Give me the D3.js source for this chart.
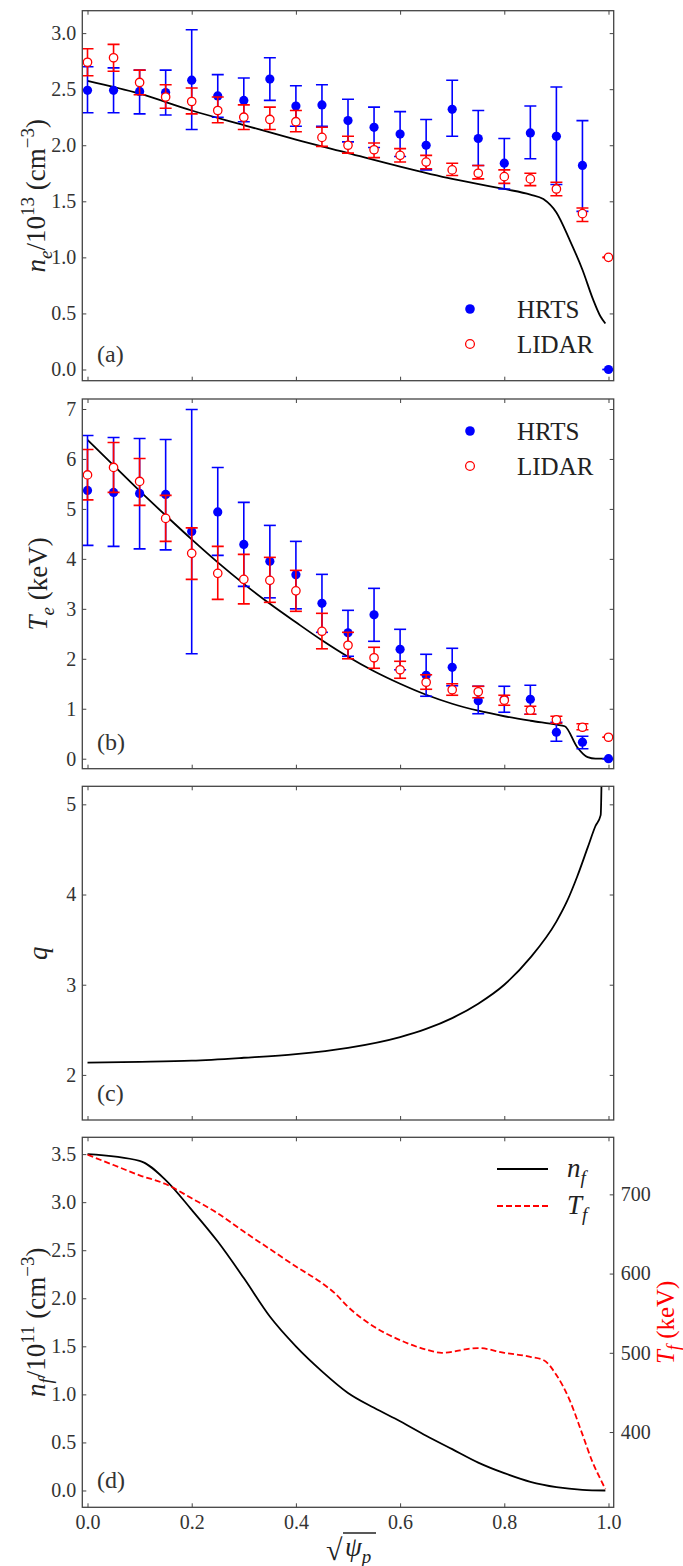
<!DOCTYPE html>
<html>
<head>
<meta charset="utf-8">
<script src="https://cdn.jsdelivr.net/npm/d3@7"></script>
<style>
  body { margin: 0; background: #fff; }
</style>
</head>
<body>
<div id="chart"></div>
<script>
// radial grid of the measurements
var xPos = [0, 0.05, 0.1, 0.15, 0.2, 0.25, 0.3, 0.35, 0.4, 0.45, 0.5,
            0.55, 0.6, 0.65, 0.7, 0.75, 0.8, 0.85, 0.9, 0.95, 1.0];

// (a) density, 1e13 cm^-3
var neHRTS    = [2.49, 2.49, 2.48, 2.47, 2.58, 2.44, 2.40, 2.59, 2.35, 2.36, 2.22, 2.16, 2.10, 2.00, 2.32, 2.06, 1.84, 2.11, 2.08, 1.82, 0.0];
var neHRTSlo  = [2.29, 2.29, 2.28, 2.27, 2.14, 2.25, 2.21, 2.40, 2.17, 2.17, 2.03, 1.98, 1.90, 1.78, 2.08, 1.82, 1.61, 1.88, 1.65, 1.41, 0.0];
var neHRTShi  = [2.70, 2.69, 2.67, 2.67, 3.03, 2.63, 2.60, 2.78, 2.53, 2.54, 2.41, 2.34, 2.30, 2.23, 2.58, 2.31, 2.06, 2.35, 2.52, 2.22, 0.0];
var neLIDAR   = [2.74, 2.78, 2.56, 2.43, 2.39, 2.31, 2.25, 2.23, 2.21, 2.07, 2.00, 1.96, 1.91, 1.85, 1.78, 1.75, 1.72, 1.70, 1.61, 1.39, 1.00];
var neLIDARlo = [2.62, 2.66, 2.45, 2.33, 2.28, 2.20, 2.14, 2.14, 2.12, 1.99, 1.93, 1.89, 1.85, 1.79, 1.73, 1.70, 1.66, 1.64, 1.55, 1.32, 1.00];
var neLIDARhi = [2.86, 2.90, 2.67, 2.54, 2.51, 2.43, 2.36, 2.34, 2.31, 2.16, 2.08, 2.02, 1.97, 1.91, 1.84, 1.82, 1.78, 1.75, 1.67, 1.44, 1.00];
var neFitX = [0, 0.1, 0.2, 0.3, 0.4, 0.5, 0.6, 0.7, 0.8, 0.85, 0.875, 0.9, 0.925, 0.95, 0.97, 0.985, 0.994];
var neFit  = [2.574, 2.46, 2.31, 2.18, 2.05, 1.93, 1.81, 1.70, 1.61, 1.56, 1.52, 1.40, 1.16, 0.89, 0.63, 0.47, 0.41];

// (b) temperature, keV
var teHRTS    = [5.37, 5.33, 5.31, 5.29, 4.55, 4.94, 4.29, 3.95, 3.68, 3.11, 2.52, 2.88, 2.19, 1.67, 1.83, 1.16, 1.19, 1.19, 0.53, 0.33, 0.0];
var teHRTSlo  = [4.27, 4.25, 4.20, 4.18, 2.10, 4.07, 3.45, 3.22, 3.00, 2.53, 2.05, 2.35, 1.78, 1.25, 1.46, 0.90, 0.93, 0.89, 0.35, 0.20, 0.0];
var teHRTShi  = [6.47, 6.43, 6.41, 6.39, 6.99, 5.83, 5.13, 4.67, 4.35, 3.69, 2.97, 3.41, 2.59, 2.09, 2.21, 1.45, 1.45, 1.47, 0.73, 0.45, 0.0];
var teLIDAR   = [5.68, 5.83, 5.55, 4.81, 4.11, 3.71, 3.59, 3.57, 3.36, 2.55, 2.27, 2.02, 1.78, 1.53, 1.38, 1.34, 1.17, 0.97, 0.78, 0.63, 0.43];
var teLIDARlo = [5.18, 5.33, 5.07, 4.35, 3.59, 3.19, 3.10, 3.13, 2.95, 2.20, 2.00, 1.81, 1.61, 1.39, 1.27, 1.22, 1.07, 0.89, 0.71, 0.58, 0.43];
var teLIDARhi = [6.19, 6.33, 6.01, 5.27, 4.62, 4.25, 4.09, 4.03, 3.77, 2.91, 2.53, 2.23, 1.95, 1.68, 1.50, 1.45, 1.27, 1.05, 0.85, 0.70, 0.43];
var teFitX = [0, 0.05, 0.1, 0.15, 0.2, 0.25, 0.3, 0.35, 0.4, 0.45, 0.5, 0.55, 0.6, 0.65, 0.7, 0.75, 0.8, 0.85, 0.9, 0.916, 0.94, 0.96, 0.975, 0.994];
var teFit  = [6.38, 5.87, 5.36, 4.87, 4.39, 3.93, 3.50, 3.10, 2.73, 2.37, 2.04, 1.75, 1.50, 1.28, 1.10, 0.96, 0.85, 0.76, 0.68, 0.65, 0.23, 0.03, 0.0, 0.0];

// (c) safety factor
var qX = [0, 0.1, 0.2, 0.3, 0.4, 0.5, 0.6, 0.65, 0.7, 0.75, 0.8, 0.85, 0.9, 0.92, 0.94, 0.96, 0.975, 0.985, 0.99];
var qV = [2.137, 2.145, 2.158, 2.19, 2.23, 2.30, 2.42, 2.51, 2.63, 2.79, 3.00, 3.30, 3.70, 3.92, 4.20, 4.52, 4.76, 4.88, 7.0];

// (d) fast ions
var fX = [0, 0.1, 0.15, 0.2, 0.25, 0.3, 0.35, 0.4, 0.45, 0.5, 0.55, 0.6, 0.65, 0.7, 0.75, 0.8, 0.85, 0.9, 0.95, 0.994];
var nf = [3.50, 3.43, 3.23, 2.92, 2.59, 2.21, 1.81, 1.50, 1.24, 1.015, 0.86, 0.72, 0.57, 0.43, 0.29, 0.18, 0.09, 0.035, 0.007, 0.0];
var tfX = [0, 0.05, 0.1, 0.15, 0.2, 0.25, 0.3, 0.35, 0.4, 0.45, 0.475, 0.5, 0.55, 0.6, 0.65, 0.68, 0.75, 0.8, 0.85, 0.875, 0.9, 0.925, 0.95, 0.97, 0.985, 0.994];
var tf  = [750, 737, 724, 713, 695, 676, 653, 631, 609, 588, 575, 558, 533, 516, 504, 500, 506, 500, 495, 491, 472, 441, 397, 361, 340, 328];

var xTicks = [0, 0.2, 0.4, 0.6, 0.8, 1.0];

var W = 683, H = 1566;
var left = 82.3, right = 613.7;
var ink = "#333", spine = "#444";
var SERIF = "'Liberation Serif'";

var svg = d3.select("#chart").append("svg")
    .attr("width", W).attr("height", H);

var x = d3.scaleLinear().domain([-0.01, 1.01]).range([left, right]);

function txt(sel) {
    return sel.append("text").style("font-family", SERIF);
}

function styleTicks(ax) {
    ax.attr("font-family", null).attr("font-size", null);
    ax.selectAll(".domain").remove();
    ax.selectAll(".tick line").attr("stroke", spine).attr("stroke-width", 1);
    ax.selectAll(".tick text").attr("fill", ink)
        .style("font-family", SERIF).style("font-size", "20px");
}

function makePanel(id, top, bottom, ydom, yTicks, yFmt, showX) {
    var y = d3.scaleLinear().domain(ydom).range([bottom, top]);
    var g = svg.append("g");

    g.append("clipPath").attr("id", "clip" + id)
        .append("rect")
        .attr("x", left).attr("y", top)
        .attr("width", right - left).attr("height", bottom - top);

    var ax = [];
    ax.push(g.append("g").attr("transform", "translate(" + left + ",0)")
        .call(d3.axisLeft(y).tickValues(yTicks).tickFormat(yFmt).tickSizeInner(-4).tickSizeOuter(0).tickPadding(6)));
    if (id !== "d") {
        ax.push(g.append("g").attr("transform", "translate(" + right + ",0)")
            .call(d3.axisRight(y).tickValues(yTicks).tickFormat("").tickSizeInner(-4).tickSizeOuter(0)));
    }
    ax.push(g.append("g").attr("transform", "translate(0," + top + ")")
        .call(d3.axisTop(x).tickValues(xTicks).tickFormat("").tickSizeInner(-4).tickSizeOuter(0)));
    ax.push(g.append("g").attr("transform", "translate(0," + bottom + ")")
        .call(d3.axisBottom(x).tickValues(xTicks)
            .tickFormat(showX ? d3.format(".1f") : "")
            .tickSizeInner(-4).tickSizeOuter(0).tickPadding(8)));
    ax.forEach(styleTicks);

    var plot = g.append("g").attr("clip-path", "url(#clip" + id + ")");

    g.append("rect")
        .attr("x", left).attr("y", top)
        .attr("width", right - left).attr("height", bottom - top)
        .attr("fill", "none").attr("stroke", spine).attr("stroke-width", 1.3);

    return { g: g, plot: plot, y: y, top: top, bottom: bottom };
}

// rich text helper: parts = [{t, i, sub, sup}]
function rich(sel, parts, size) {
    var off = 0;
    parts.forEach(function (p) {
        var target = p.sub ? size * 0.25 : (p.sup ? -size * 0.42 : 0);
        sel.append("tspan")
            .attr("dy", target - off)
            .style("font-size", Math.round(p.sub || p.sup ? size * 0.7 : size) + "px")
            .style("font-style", p.i ? "italic" : "normal")
            .text(p.t);
        off = target;
    });
    return sel;
}

function yLabel(P, parts, xp, color, size) {
    var cy = (P.top + P.bottom) / 2;
    var t = txt(svg)
        .attr("transform", "translate(" + xp + "," + cy + ") rotate(-90)")
        .attr("text-anchor", "middle")
        .attr("fill", color || "#222");
    rich(t, parts, size || 27);
}

function panelTag(P, s) {
    txt(svg)
        .attr("x", 97).attr("y", P.bottom - 19)
        .attr("fill", ink).style("font-size", "24px")
        .text(s);
}

function drawLine(P, xs, ys, yScale, color, dash) {
    var pts = xs.map(function (d, i) { return [d, ys[i]]; });
    var path = P.plot.append("path")
        .datum(pts)
        .attr("fill", "none")
        .attr("stroke", color)
        .attr("stroke-width", 1.8)
        .attr("d", d3.line()
            .x(function (d) { return x(d[0]); })
            .y(function (d) { return yScale(d[1]); })
            .curve(d3.curveMonotoneX));
    if (dash) path.attr("stroke-dasharray", dash);
}

function drawErr(P, vals, lo, hi, color, filled) {
    var y = P.y;
    var grp = P.plot.append("g");
    var data = xPos.map(function (d, i) { return { x: d, v: vals[i], lo: lo[i], hi: hi[i] }; });
    grp.selectAll(".bar").data(data).enter().append("line")
        .attr("x1", function (d) { return x(d.x); }).attr("x2", function (d) { return x(d.x); })
        .attr("y1", function (d) { return y(d.lo); }).attr("y2", function (d) { return y(d.hi); })
        .attr("stroke", color).attr("stroke-width", 1.6);
    ["lo", "hi"].forEach(function (k) {
        grp.selectAll(".cap" + k).data(data).enter().append("line")
            .attr("x1", function (d) { return x(d.x) - 6; }).attr("x2", function (d) { return x(d.x) + 6; })
            .attr("y1", function (d) { return y(d[k]); }).attr("y2", function (d) { return y(d[k]); })
            .attr("stroke", color).attr("stroke-width", 1.6);
    });
    grp.selectAll("circle").data(data).enter().append("circle")
        .attr("cx", function (d) { return x(d.x); })
        .attr("cy", function (d) { return y(d.v); })
        .attr("r", filled ? 4.6 : 4.2)
        .attr("fill", filled ? color : "#fff")
        .attr("stroke", color).attr("stroke-width", filled ? 0 : 1.3);
}

function pointLegend(yTop) {
    var items = [{ name: "HRTS", c: "#0000ff", f: true }, { name: "LIDAR", c: "#ff0000", f: false }];
    items.forEach(function (it, i) {
        var cy = yTop + i * 35;
        svg.append("circle").attr("cx", 470).attr("cy", cy)
            .attr("r", it.f ? 4.8 : 4.4)
            .attr("fill", it.f ? it.c : "#fff")
            .attr("stroke", it.c).attr("stroke-width", it.f ? 0 : 1.3);
        txt(svg).attr("x", 517).attr("y", cy + 9)
            .attr("fill", "#222").style("font-size", "25px").text(it.name);
    });
}

var fmt1 = d3.format(".1f"), fmt0 = d3.format("d");

// ---- (a)
var A = makePanel("a", 10.7, 380.7, [-0.1, 3.2], [0, 0.5, 1, 1.5, 2, 2.5, 3], fmt1, false);
drawLine(A, neFitX, neFit, A.y, "#000");
drawErr(A, neHRTS, neHRTSlo, neHRTShi, "#0000ff", true);
drawErr(A, neLIDAR, neLIDARlo, neLIDARhi, "#ff0000", false);
yLabel(A, [{ t: "n", i: true }, { t: "e", i: true, sub: true }, { t: "/10" }, { t: "13", sup: true },
           { t: " (cm" }, { t: "−3", sup: true }, { t: ")" }], 45);
panelTag(A, "(a)");
pointLegend(309);

// ---- (b)
var B = makePanel("b", 399, 768.7, [-0.2, 7.2], [0, 1, 2, 3, 4, 5, 6, 7], fmt0, false);
drawLine(B, teFitX, teFit, B.y, "#000");
drawErr(B, teHRTS, teHRTSlo, teHRTShi, "#0000ff", true);
drawErr(B, teLIDAR, teLIDARlo, teLIDARhi, "#ff0000", false);
yLabel(B, [{ t: "T", i: true }, { t: "e", i: true, sub: true }, { t: " (keV)" }], 47);
panelTag(B, "(b)");
pointLegend(431);

// ---- (c)
var C = makePanel("c", 786.3, 1120, [1.5, 5.2], [2, 3, 4, 5], fmt0, false);
drawLine(C, qX, qV, C.y, "#000");
yLabel(C, [{ t: "q", i: true }], 47);
panelTag(C, "(c)");

// ---- (d)
var D = makePanel("d", 1137.3, 1507.3, [-0.175, 3.675], [0, 0.5, 1, 1.5, 2, 2.5, 3, 3.5], fmt1, true);
var y2 = d3.scaleLinear().domain([305, 772]).range([D.bottom, D.top]);
var rAx = D.g.append("g").attr("transform", "translate(" + right + ",0)")
    .call(d3.axisRight(y2).tickValues([400, 500, 600, 700]).tickSizeInner(-4).tickSizeOuter(0).tickPadding(7));
styleTicks(rAx);

drawLine(D, fX, nf, D.y, "#000");
drawLine(D, tfX, tf, y2, "#ff0000", "6,3");
yLabel(D, [{ t: "n", i: true }, { t: "f", i: true, sub: true }, { t: "/10" }, { t: "11", sup: true },
           { t: " (cm" }, { t: "−3", sup: true }, { t: ")" }], 45);
yLabel(D, [{ t: "T", i: true }, { t: "f", i: true, sub: true }, { t: " (keV)" }], 674, "#ff0000", 25);
panelTag(D, "(d)");

// line legend
[{ lab: "n", c: "#000", dash: null }, { lab: "T", c: "#ff0000", dash: "6,3" }]
    .forEach(function (it, i) {
        var ly = 1169 + i * 37;
        var ln = svg.append("line").attr("x1", 497).attr("x2", 548).attr("y1", ly).attr("y2", ly)
            .attr("stroke", it.c).attr("stroke-width", 1.8);
        if (it.dash) ln.attr("stroke-dasharray", it.dash);
        var t = txt(svg).attr("x", 567).attr("y", ly + 8).attr("fill", "#222");
        rich(t, [{ t: it.lab, i: true }, { t: "f", i: true, sub: true }], 27);
    });

// x label: sqrt(psi_p)
var rad = txt(svg).attr("x", 326).attr("y", 1560)
    .attr("fill", "#222").style("font-size", "30px").text("√");
var psi = txt(svg).attr("x", 345).attr("y", 1556).attr("fill", "#222");
rich(psi, [{ t: "ψ", i: true }, { t: "p", i: true, sub: true }], 27);
svg.append("line")
    .attr("x1", 343).attr("x2", 376)
    .attr("y1", 1533).attr("y2", 1533)
    .attr("stroke", "#222").attr("stroke-width", 1.4);
</script>
</body>
</html>
